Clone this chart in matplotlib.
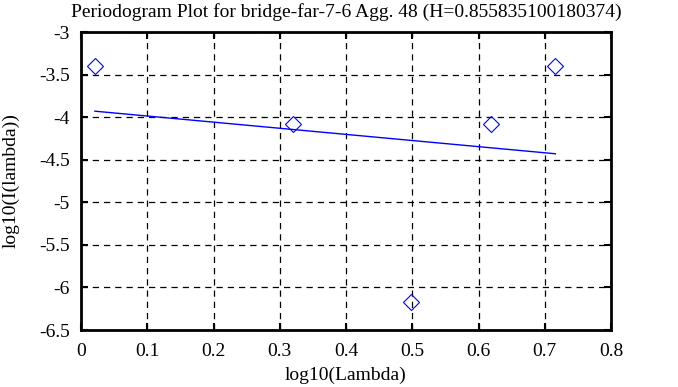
import matplotlib
matplotlib.use("Agg")
import matplotlib.pyplot as plt
import numpy as np

plt.rcParams['font.family'] = ['Liberation Serif', 'DejaVu Serif']

# Data
x_points = [0.021, 0.320, 0.498, 0.619, 0.716]
y_points = [-3.40, -4.08, -6.17, -4.08, -3.40]
fit_x = [0.021, 0.716]
fit_y = [-3.93, -4.43]
x_ticks = [0, 0.1, 0.2, 0.3, 0.4, 0.5, 0.6, 0.7, 0.8]
x_tick_labels = ['0', '0.1', '0.2', '0.3', '0.4', '0.5', '0.6', '0.7', '0.8']
y_ticks = [-6.5, -6, -5.5, -5, -4.5, -4, -3.5, -3]
y_tick_labels = ['-6.5', '-6', '-5.5', '-5', '-4.5', '-4', '-3.5', '-3']

fig = plt.figure(figsize=(6.78, 3.87), dpi=100)
ax = fig.add_axes([81/678, 57/387, 530/678, 298/387])

ax.plot(x_points, y_points, linestyle='none', marker='D', markersize=8,
        markerfacecolor='none', markeredgecolor='blue', markeredgewidth=0.8)
ax.plot(fit_x, fit_y, color='blue', linewidth=1.0)

ax.set_xlim(0, 0.8)
ax.set_ylim(-6.5, -3)
ax.set_xticks(x_ticks)
ax.set_xticklabels(x_tick_labels)
ax.set_yticks(y_ticks)
ax.set_yticklabels(y_tick_labels)
ax.grid(True, color='black', linestyle=(0, (5, 4)), linewidth=0.9)
ax.tick_params(direction='in', length=5, width=1.5, top=True, right=True,
               labelsize=14)
ax.tick_params(axis='x', pad=9)
ax.tick_params(axis='y', pad=8)
for s in ax.spines.values():
    s.set_linewidth(2)

ax.set_xlabel('log10(Lambda)', fontsize=14, labelpad=5)
ax.set_ylabel('log10(I(lambda))', fontsize=14, labelpad=14)
ax.set_title('Periodogram Plot for bridge-far-7-6 Agg. 48 (H=0.855835100180374)',
             fontsize=14, pad=11)

fig.savefig('out.png', dpi=100)
